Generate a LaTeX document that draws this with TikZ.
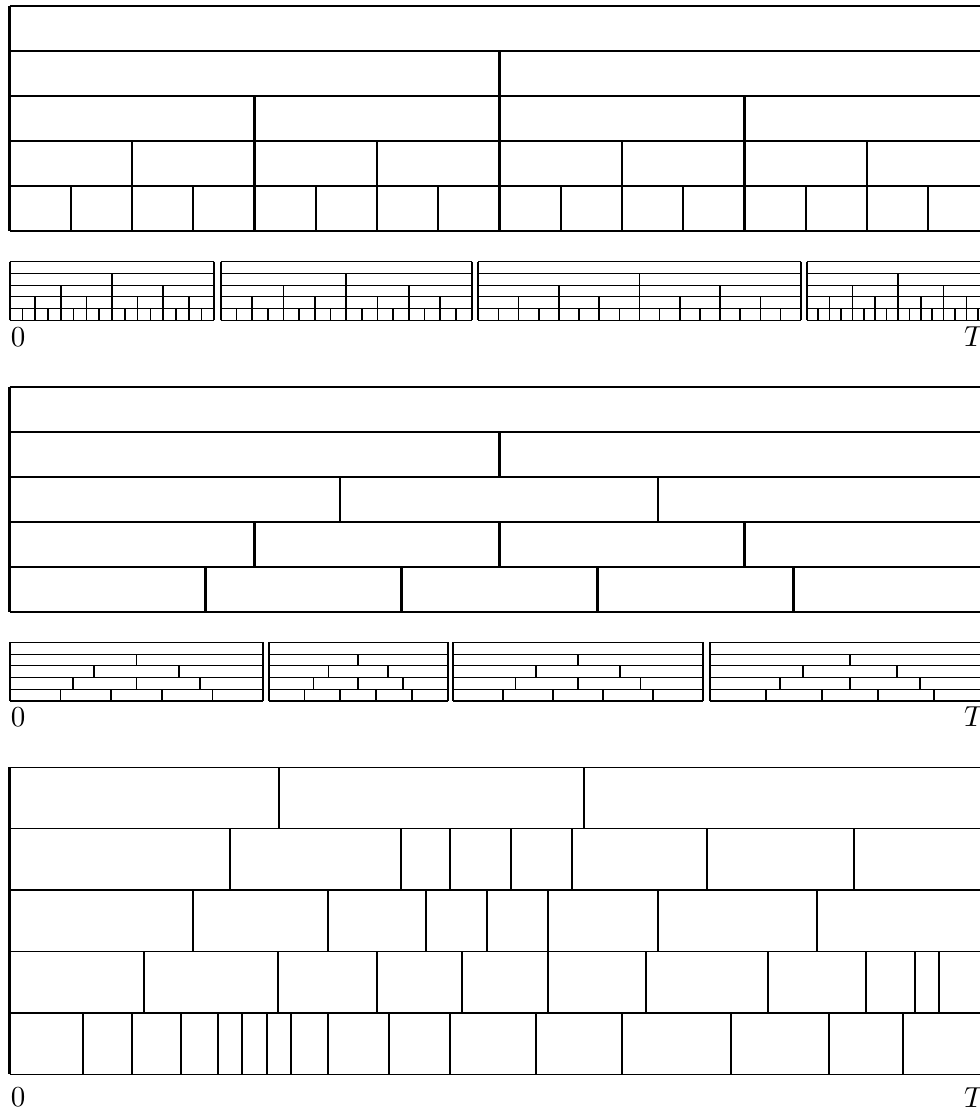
\documentclass[tikz,border=0pt]{standalone}
\begin{document}
\begin{tikzpicture}[x=0.345pt,y=-0.345pt,
  hl/.style={line width=0.5pt},
  vl/.style={line width=0.75pt},
  shl/.style={line width=0.38pt},
  svl/.style={line width=0.58pt},
  lab/.style={inner sep=0pt,outer sep=0pt}]
\useasboundingbox (0,0) rectangle (980,1109);
\def\xl{9.5}\def\xr{989.5}
% ---------- top panel (dyadic) ----------
\foreach \y in {6,51,96,141,186,231} \draw[hl] (\xl,\y) -- (\xr,\y);
\draw[vl] (\xl,6) -- (\xl,231);
\draw[vl] (\xr,6) -- (\xr,231);
\foreach \k in {2,...,5} {
  \pgfmathtruncatemacro\nn{2^(\k-1)}
  \pgfmathtruncatemacro\mm{\nn-1}
  \pgfmathsetmacro\yt{6+(\k-1)*45}
  \foreach \j in {1,...,\mm} \draw[vl] ({\xl+\j*980/\nn},\yt) -- ++(0,45);
}
% ---------- strip macros ----------
\newcommand\dyastrip[4]{%
  \foreach \k in {0,...,5} \draw[shl] (#1,{#3+\k*#4}) -- (#2,{#3+\k*#4});
  \draw[svl] (#1,#3) -- (#1,{#3+5*#4});
  \draw[svl] (#2,#3) -- (#2,{#3+5*#4});
  \foreach \k in {2,...,5} {
    \pgfmathtruncatemacro\nn{2^(\k-1)}
    \pgfmathtruncatemacro\mm{\nn-1}
    \foreach \j in {1,...,\mm}
      \draw[svl] ({#1+\j*(#2-#1)/\nn},{#3+(\k-1)*#4}) -- ++(0,#4);
  }}
\newcommand\unistrip[4]{%
  \foreach \k in {0,...,5} \draw[shl] (#1,{#3+\k*#4}) -- (#2,{#3+\k*#4});
  \draw[svl] (#1,#3) -- (#1,{#3+5*#4});
  \draw[svl] (#2,#3) -- (#2,{#3+5*#4});
  \foreach \k in {2,...,5} {
    \pgfmathtruncatemacro\mm{\k-1}
    \foreach \j in {1,...,\mm}
      \draw[svl] ({#1+\j*(#2-#1)/\k},{#3+(\k-1)*#4}) -- ++(0,#4);
  }}
% ---------- strip 1 ----------
\dyastrip{9.7}{214.3}{261.7}{11.72}
\dyastrip{220.7}{471.7}{261.7}{11.72}
\dyastrip{478.3}{800.7}{261.7}{11.72}
\dyastrip{806.7}{989.3}{261.7}{11.72}
\node[lab,anchor=north] (z1) at (18,328.3) {$0$};
\node[lab,anchor=north west] (t1) at (964,327) {$T$};
% ---------- middle panel ----------
\foreach \y in {387,432,477,522,567,612} \draw[hl] (\xl,\y) -- (\xr,\y);
\draw[vl] (\xl,387) -- (\xl,612);
\draw[vl] (\xr,387) -- (\xr,612);
\draw[vl] (499.5,432) -- ++(0,45);
\foreach \x in {340,658} \draw[vl] (\x,477) -- ++(0,45);
\foreach \x in {254.5,499.5,744.5} \draw[vl] (\x,522) -- ++(0,45);
\foreach \x in {205.5,401.5,597.5,793.5} \draw[vl] (\x,567) -- ++(0,45);
% ---------- strip 2 ----------
\unistrip{9.7}{263.3}{642.3}{11.74}
\unistrip{268.7}{447.7}{642.3}{11.74}
\unistrip{452.7}{703.3}{642.3}{11.74}
\unistrip{710}{990}{642.3}{11.74}
\node[lab,anchor=north] (z2) at (18,708.3) {$0$};
\node[lab,anchor=north west] (t2) at (964,707) {$T$};
% ---------- bottom panel ----------
\foreach \y in {767.3,828.7,890.1,951.5,1012.9,1074.3} \draw[hl] (\xl,\y) -- (\xr,\y);
\draw[vl] (\xl,767.3) -- (\xl,1074.3);
\draw[vl] (\xr,767.3) -- (\xr,1074.3);
\foreach \x in {278.7,584.3} \draw[vl] (\x,767.3) -- (\x,828.7);
\foreach \x in {230,401,450,511,572,706.7,853.7} \draw[vl] (\x,828.7) -- (\x,890.1);
\foreach \x in {193.3,327.7,425.7,486.7,547.7,657.7,816.7} \draw[vl] (\x,890.1) -- (\x,951.5);
\foreach \x in {144.3,278.3,376.7,462.3,547.7,645.7,767.7,866,915,939.3} \draw[vl] (\x,951.5) -- (\x,1012.9);
\foreach \x in {82.7,132,181,217.7,242.3,266.7,291,327.7,389,450,535.7,621.7,731,829.3,902.7} \draw[vl] (\x,1012.9) -- (\x,1074.3);
\node[lab,anchor=north] (z3) at (18,1088) {$0$};
\node[lab,anchor=north west] (t3) at (964,1088) {$T$};
\end{tikzpicture}
\end{document}
